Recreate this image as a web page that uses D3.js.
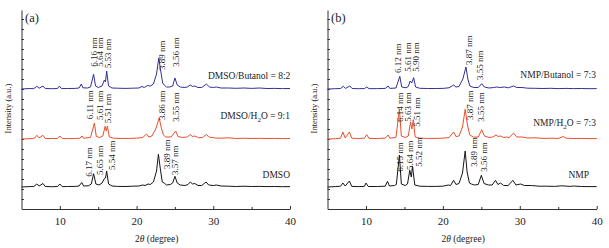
<!DOCTYPE html>
<html><head><meta charset="utf-8">
<script src="https://cdn.jsdelivr.net/npm/d3@7"></script>
<style>body{margin:0;background:#fff}svg{display:block}</style>
</head><body>
<script>
// ---------- data ----------
const xTicks = [10, 20, 30, 40];
const panelTags = ["(a)", "(b)"];
const xTitle = "(degree)";
const yTitle = "Intensity (a.u.)";

const namesA = ["DMSO/Butanol = 8:2", "DMSO/H2O = 9:1", "DMSO"];
const namesB = ["NMP/Butanol = 7:3", "NMP/H2O = 7:3", "NMP"];
const seriesColors = ["#30309a", "#ea4f2c", "#151515"];
const offsets = [120, 70, 22];           // vertical stacking offset (a.u.)
const nameX = [[40.05, 40.0, 40.0], [39.9, 39.9, 39.0]];
const nameY = [[130, 89.7, 31], [131.3, 83, 31]];

// panel (a) patterns: [2theta, intensity]
const dmsoButanol = [[5,0],[6,0.5],[6.6,0.3],[7.0,2.7],[7.3,0.8],[7.8,3],[8.1,0.5],[9,0.3],[9.7,0.5],[9.95,3],[10.2,0.4],[11,0.5],[12,0.6],[12.5,1],[12.8,5],[13.0,1.2],[13.6,1],[14.0,2],[14.4,14.7],[14.65,3],[15.0,1.5],[15.5,3],[15.8,9],[15.95,7],[16.1,18],[16.35,3],[16.8,1],[17.5,0.8],[18.5,0.6],[19.5,0.8],[20.3,1],[20.7,2.5],[21.0,1.5],[21.4,3.5],[21.8,3],[22.2,5],[22.6,15],[22.9,31],[23.15,18],[23.4,6],[23.6,4],[23.9,2],[24.3,2],[24.7,3],[25.0,11],[25.3,4],[25.7,2],[26.2,1.5],[26.6,2],[27.0,4],[27.3,2.5],[27.6,3],[28.0,1.5],[28.5,1.5],[29.1,5],[29.5,2],[30.0,1.5],[30.4,2],[31,1],[32,1],[33,0.7],[34,1],[35,0.6],[36,1],[37,0.5],[38,0.6],[39,0.4],[40,0.5]];
const dmsoWater = [[5,0],[6,0.3],[6.7,0.8],[7.0,3.7],[7.3,1],[7.8,3.7],[8.1,0.6],[9,0.4],[9.7,0.6],[10.0,3],[10.3,0.5],[11,0.4],[12,0.5],[12.6,0.8],[12.9,3],[13.1,0.8],[14.0,1.5],[14.5,16],[14.75,2.5],[15.2,1.5],[15.6,3],[15.9,12.7],[16.05,8],[16.2,13],[16.45,2],[17,0.8],[18,0.5],[19,0.6],[20,0.8],[20.8,1.5],[21.3,5],[21.6,2],[22.0,3],[22.5,10],[22.95,21],[23.2,12],[23.5,4],[23.8,2],[24.5,2],[25.1,8],[25.4,2.5],[26,1.5],[26.6,2],[27.0,4.5],[27.3,2.5],[27.6,3],[28.1,1.2],[28.6,1.5],[29.1,4.5],[29.5,1.8],[30.3,1],[31,0.8],[32,1.2],[33,0.5],[34,0.8],[35,0.5],[36,0.7],[37,0.5],[38,0.6],[39,0.4],[40,0.5]];
const dmso = [[5,0],[6,0.4],[6.6,0.5],[7.0,3],[7.3,1],[7.8,3.5],[8.1,0.5],[9,0.3],[9.7,0.5],[10.0,3],[10.3,0.4],[11,0.5],[12,0.6],[12.5,1],[12.85,4.5],[13.1,1],[13.7,1.2],[14.1,3],[14.4,13.3],[14.7,3],[15.1,2],[15.5,4],[15.8,8.5],[15.95,9],[16.1,16],[16.35,3],[16.8,1],[17.5,0.6],[18.5,0.5],[19.5,0.8],[20.3,1],[20.8,2],[21.1,1.5],[21.5,3],[21.8,2.5],[22.2,5],[22.6,16],[22.85,32.7],[23.1,18],[23.35,5],[23.6,4],[23.9,2],[24.4,2.5],[24.7,4],[25.0,10.7],[25.3,4],[25.7,2],[26.3,1.5],[26.7,2.5],[27.0,5],[27.3,3],[27.6,3.5],[28.0,1.5],[28.5,1.5],[29.05,5],[29.4,2],[30.0,1.5],[30.4,2],[31,1],[32,0.8],[33,0.5],[34,0.8],[35,0.5],[36,0.6],[37,0.4],[38,0.5],[39,0.3],[40,0.4]];

// panel (b) patterns
const nmpButanol = [[5,0],[6,0.3],[6.7,0.5],[7.05,2.7],[7.35,0.6],[7.9,3],[8.2,0.5],[9,0.3],[9.8,0.4],[10.1,2],[10.4,0.3],[11.5,0.4],[12.5,0.6],[12.9,3],[13.1,0.6],[13.9,1],[14.4,12.7],[14.65,2],[15.2,1.2],[15.5,2.5],[15.75,8],[15.95,6],[16.2,11.3],[16.45,2],[17,0.7],[18,0.5],[19,0.5],[20,0.6],[20.8,1.2],[21.4,4],[21.7,2],[22.1,2.5],[22.6,10],[23.0,22],[23.25,10],[23.5,3],[24,1.5],[24.6,1.5],[25.05,5.3],[25.4,2],[26,1],[26.6,1.5],[27.0,2],[27.4,1.5],[28.0,2],[28.5,1.2],[29.2,3],[29.6,1.5],[30.3,1.5],[31,0.8],[32,0.7],[33,0.5],[34,0.7],[35,0.4],[36,0.6],[37,0.4],[38,0.5],[39,0.3],[40,0.4]];
const nmpWater = [[5,0],[6,0.3],[6.7,0.8],[7.0,7],[7.3,1],[7.85,7],[8.15,0.8],[9,0.5],[9.8,0.8],[10.1,4.3],[10.4,0.6],[11.5,0.5],[12.5,0.8],[12.9,4],[13.1,0.8],[13.9,1.5],[14.35,30],[14.6,3],[15.1,1.5],[15.5,3],[15.8,17],[15.97,10],[16.15,19.3],[16.4,2],[17,0.8],[18,0.6],[19,0.6],[20,0.8],[20.8,1.5],[21.4,7],[21.7,2.5],[22.1,3],[22.55,12],[22.9,29.7],[23.2,14],[23.5,4],[24,1.8],[24.6,2],[25.05,9.3],[25.4,3],[26,1.5],[26.5,2],[26.9,4],[27.2,2.5],[27.5,3],[27.9,1.5],[28.3,2],[28.6,1.2],[29.2,6],[29.6,2],[30.3,2],[31,1],[32,1.2],[33,0.6],[34,0.8],[35,0.6],[35.7,2.5],[36,0.8],[37,0.5],[38,0.6],[39,0.4],[40,0.5]];
const nmp = [[5,0],[6,0.4],[6.7,0.8],[7.0,4],[7.3,1],[7.85,6],[8.15,0.6],[9,0.4],[9.8,0.6],[10.0,4],[10.3,0.5],[11.5,0.5],[12.5,0.8],[12.8,5.7],[13.05,1],[13.7,1.5],[13.95,2.5],[14.35,32],[14.6,3],[15.1,1.5],[15.4,3],[15.7,16.7],[15.9,10],[16.05,20.7],[16.35,2],[17,0.8],[18,0.6],[19,0.6],[20,0.8],[20.7,2],[21.0,1.5],[21.4,6.7],[21.7,2.5],[22.1,3.5],[22.55,14],[22.9,36],[23.15,15],[23.45,4],[23.7,3],[24.1,2],[24.6,2.5],[25.0,11.7],[25.35,3.5],[25.9,2],[26.4,2],[26.85,6.7],[27.15,2.5],[27.5,4],[27.9,1.5],[28.5,1.5],[29.1,6.7],[29.5,2],[30.1,3],[30.6,1.5],[31.5,1.5],[32.5,0.8],[33.5,0.8],[34.5,0.6],[35.5,1.2],[36.5,0.6],[37,1],[38,0.5],[39,0.4],[40,0.4]];

// peak annotations: [text, 2theta, level]
const peaksA = [
  [["6.16 nm",14.88,142.3],["5.64 nm",15.63,142.3],["5.53 nm",16.71,140.7],["3.89 nm",23.75,139],["3.56 nm",25.5,142.3]],
  [["6.11 nm",14.32,89.7],["5.61 nm",15.63,89],["5.51 nm",16.63,85.7],["3.86 nm",23.75,89],["3.55 nm",25.5,87.3]],
  [["6.17 nm",14.23,32.3],["5.65 nm",15.63,34],["5.54 nm",17.15,39],["3.89 nm",24.32,40],["3.57 nm",25.4,34]]
];
const peaksB = [
  [["6.12 nm",14.52,136],["5.61 nm",15.9,137.3],["5.90 nm",16.9,137.3],["3.87 nm",23.83,144],["3.55 nm",25.22,129]],
  [["6.14 nm",14.82,87],["5.63 nm",15.9,87.3],["5.51 nm",16.99,82.3],["3.87 nm",23.92,89],["3.55 nm",25.35,87.3]],
  [["6.15 nm",14.82,37.3],["5.64 nm",16.12,39],["5.52 nm",17.33,42.3],["3.89 nm",24.44,42.3],["3.56 nm",25.74,37.3]]
];

const panels = [
  {tag: panelTags[0], names: namesA, data: [dmsoButanol, dmsoWater, dmso], peaks: peaksA, nx: nameX[0], ny: nameY[0], range: [21.5, 290], titleX: 8},
  {tag: panelTags[1], names: namesB, data: [nmpButanol, nmpWater, nmp], peaks: peaksB, nx: nameX[1], ny: nameY[1], range: [327.5, 596.7], titleX: 313.5}
];

// ---------- drawing ----------
const W = 609, H = 248;
const svg = d3.select("body").append("svg").attr("width", W).attr("height", H);
const serif = "'Liberation Serif','Times New Roman',serif";
const y = d3.scaleLinear().domain([0, 199]).range([209, 10]);

function writeName(sel, s) {
  const i = s.indexOf("H2O");
  if (i < 0) { sel.text(s); return; }
  sel.append("tspan").text(s.slice(0, i + 1));
  sel.append("tspan").attr("font-size", "7px").attr("dy", 2.5).text("2");
  sel.append("tspan").attr("dy", -2.5).text(s.slice(i + 2));
}

panels.forEach(p => {
  const x = d3.scaleLinear().domain([5, 40]).range(p.range);
  const g = svg.append("g");

  // axes
  const xAxis = d3.axisBottom(x).tickValues(xTicks).tickSizeInner(-3).tickSizeOuter(0).tickPadding(6).tickFormat(d3.format("d"));
  const gx = g.append("g").attr("transform", `translate(0,${y(0)})`).call(xAxis);
  gx.selectAll("text").attr("font-family", serif).attr("font-size", "11px").attr("fill", "#222").attr("dy", "0.9em");
  gx.selectAll("line,path").attr("stroke", "#333");
  const xMinor = d3.axisBottom(x).tickValues([15, 25, 35]).tickSizeInner(-2).tickSizeOuter(0).tickFormat("");
  g.append("g").attr("transform", `translate(0,${y(0)})`).call(xMinor).call(s => s.select("path").remove()).selectAll("line").attr("stroke", "#333");

  const yAxis = d3.axisLeft(y).tickValues(d3.range(10, 200, 10)).tickSizeInner(-2.5).tickSizeOuter(0).tickFormat("");
  const gy = g.append("g").attr("transform", `translate(${p.range[0]},0)`).call(yAxis);
  gy.selectAll("line,path").attr("stroke", "#333");

  // series
  const line = d3.line().x(d => x(d[0]));
  p.data.forEach((ser, k) => {
    line.y(d => y(d[1] + offsets[k]));
    g.append("path").attr("d", line(ser)).attr("fill", "none")
      .attr("stroke", seriesColors[k]).attr("stroke-width", 1).attr("stroke-linejoin", "round");
  });

  // peak labels
  p.peaks.forEach(list => list.forEach(([t, px, lv]) => {
    g.append("text").attr("transform", `translate(${x(px)},${y(lv)}) rotate(-90)`)
      .attr("font-family", serif).attr("font-size", "9px").attr("fill", "#222").text(t);
  }));

  // series names
  p.names.forEach((n, k) => {
    const t = g.append("text").attr("x", x(p.nx[k])).attr("y", y(p.ny[k]))
      .attr("text-anchor", "end").attr("font-family", serif).attr("font-size", "9.5px").attr("fill", "#222");
    writeName(t, n);
  });

  // panel tag
  g.append("text").attr("x", p.range[0] + 3.5).attr("y", 22).attr("font-family", serif)
    .attr("font-size", "12.5px").attr("fill", "#222").text(p.tag);

  // axis titles
  const xt = g.append("text").attr("x", (p.range[0] + p.range[1]) / 2 + 1).attr("y", 242)
    .attr("text-anchor", "middle").attr("font-family", serif).attr("font-size", "9.5px").attr("fill", "#222");
  xt.append("tspan").text("2");
  xt.append("tspan").attr("font-style", "italic").text("θ");
  xt.append("tspan").text(" " + xTitle);

  g.append("text").attr("transform", `translate(${p.titleX + 3},108.5) rotate(-90)`)
    .attr("text-anchor", "middle").attr("font-family", serif).attr("font-size", "8.5px").attr("fill", "#222").text(yTitle);
});
</script>
</body></html>
